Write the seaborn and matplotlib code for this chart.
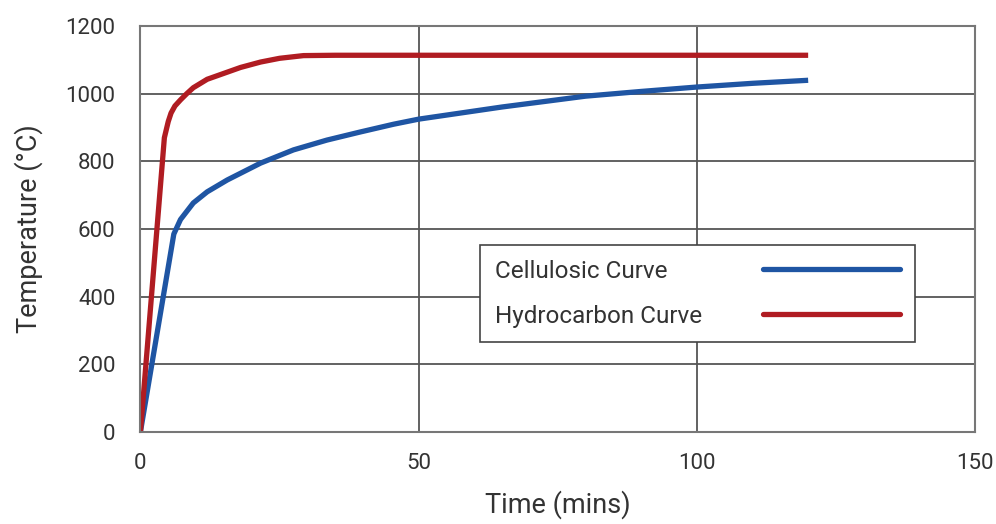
import pandas as pd
import seaborn as sns
import matplotlib.pyplot as plt
from matplotlib.lines import Line2D

# values
cellulosic_time = [0, 6, 7.2, 9.5, 12, 15.6, 21.6, 27.5, 33.5, 39.5, 45.5, 50, 65, 80, 90, 100, 110, 120]
cellulosic_temp = [0, 585, 628, 677, 710, 745, 795, 834, 863, 887, 910, 925, 961, 993, 1007, 1020, 1031, 1040]

hydrocarbon_time = [0, 4.3, 5, 5.5, 6.2, 7.2, 8.3, 9.5, 12, 15.6, 18, 21.6, 25, 29.3, 35, 120]
hydrocarbon_temp = [0, 870, 918, 943, 964, 982, 1000, 1018, 1043, 1064, 1078, 1094, 1105, 1113, 1114, 1114]

series_names = ['Cellulosic Curve', 'Hydrocarbon Curve']
series_colors = ['#1f55a3', '#b01c22']

x_ticks = [0, 50, 100, 150]
y_ticks = [0, 200, 400, 600, 800, 1000, 1200]

df = pd.concat([
    pd.DataFrame({'time': cellulosic_time, 'temp': cellulosic_temp, 'curve': series_names[0]}),
    pd.DataFrame({'time': hydrocarbon_time, 'temp': hydrocarbon_temp, 'curve': series_names[1]}),
])

sns.set_theme(style='white')
plt.rcParams['font.family'] = ['Roboto', 'DejaVu Sans']

fig, ax = plt.subplots(figsize=(9.96, 5.24), dpi=100)
fig.subplots_adjust(left=0.141, right=0.979, top=0.950, bottom=0.176)

sns.lineplot(
    data=df, x='time', y='temp', hue='curve', sort=False,
    palette=dict(zip(series_names, series_colors)),
    linewidth=3.8, legend=False, ax=ax
)
for ln in ax.get_lines():
    ln.set_solid_joinstyle('round')
    ln.set_solid_capstyle('butt')

ax.set_xlim(0, 150)
ax.set_ylim(0, 1200)
ax.set_xticks(x_ticks)
ax.set_yticks(y_ticks)
ax.grid(True, color='#555555', linewidth=1.3)
ax.set_axisbelow(True)
for s in ax.spines.values():
    s.set_color('#777777')
    s.set_linewidth(1.5)

ax.tick_params(axis='x', labelsize=16, colors='#333333', length=0, pad=15)
ax.tick_params(axis='y', labelsize=16, colors='#333333', length=3, color='#555555', width=1.3, pad=15)
ax.set_xlabel('Time (mins)', fontsize=19.5, color='#333333', labelpad=12)
ax.set_ylabel('Temperature (°C)', fontsize=19.5, color='#333333', labelpad=16)

handles = [Line2D([], [], color=c, linewidth=3.8) for c in series_colors]
leg = ax.legend(
    handles, series_names, loc='upper left', bbox_to_anchor=(0.407, 0.46),
    borderaxespad=0, markerfirst=False, frameon=True, fancybox=False, fontsize=17.5,
    handlelength=5.65, handletextpad=2.5, borderpad=0.6, labelspacing=0.9,
    labelcolor='#333333'
)
leg.get_frame().set_edgecolor('#444444')
leg.get_frame().set_linewidth(1.2)
leg.get_frame().set_alpha(1)

# left-align label text while keeping the line samples lined up on the right
fig.canvas.draw()
renderer = fig.canvas.get_renderer()
widths = [t.get_window_extent(renderer).width * 72 / fig.dpi for t in leg.get_texts()]
column = leg._legend_handle_box.get_children()[0]
column.align = 'left'
for item, w in zip(column.get_children(), widths):
    item.sep = item.sep + (max(widths) - w)

plt.savefig('out.png', dpi=100)
